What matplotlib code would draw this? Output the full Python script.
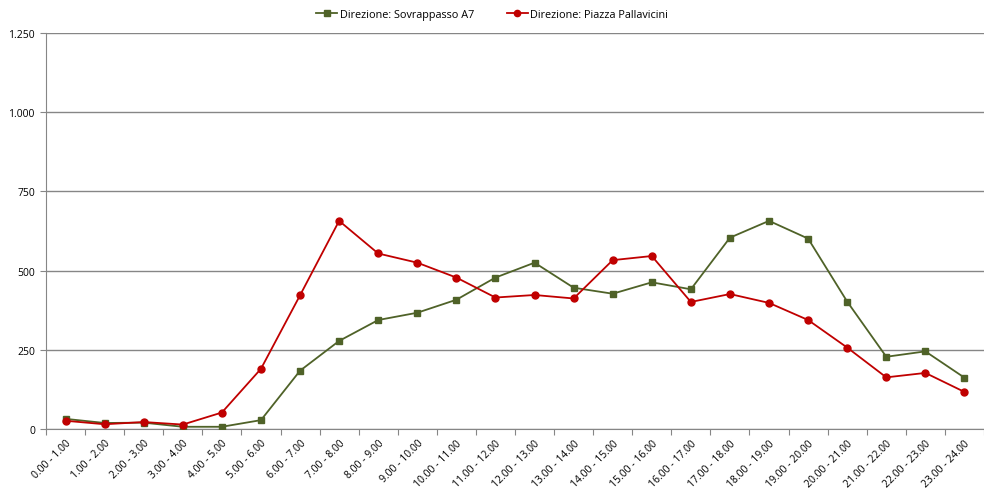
import numpy as np
import matplotlib.pyplot as plt
from matplotlib.ticker import FuncFormatter

# Fasce orarie
fasce = ["0.00 - 1.00", "1.00 - 2.00", "2.00 - 3.00", "3.00 - 4.00", "4.00 - 5.00",
         "5.00 - 6.00", "6.00 - 7.00", "7.00 - 8.00", "8.00 - 9.00", "9.00 - 10.00",
         "10.00 - 11.00", "11.00 - 12.00", "12.00 - 13.00", "13.00 - 14.00",
         "14.00 - 15.00", "15.00 - 16.00", "16.00 - 17.00", "17.00 - 18.00",
         "18.00 - 19.00", "19.00 - 20.00", "20.00 - 21.00", "21.00 - 22.00",
         "22.00 - 23.00", "23.00 - 24.00"]

# Veicoli per direzione
sovrappasso_a7 = [32, 19, 20, 7, 7, 28, 184, 278, 344, 367, 408, 478,
                  525, 446, 427, 463, 441, 604, 657, 601, 402, 228, 245, 162]
piazza_pallavicini = [26, 15, 22, 14, 52, 190, 422, 657, 554, 525, 478, 415,
                      423, 412, 533, 546, 401, 426, 398, 344, 257, 163, 177, 117]

plt.rcParams["font.family"] = ["Open Sans", "DejaVu Sans"]
grigio = "#868686"

fig = plt.figure(figsize=(9.84, 4.89), dpi=100)
ax = fig.add_axes([46 / 984, 1 - 430 / 489, 938 / 984, 396 / 489])

x = np.arange(len(fasce))
ax.plot(x, sovrappasso_a7, color="#4F6228", lw=1.3, marker="s", ms=4.5,
        label="Direzione: Sovrappasso A7", zorder=3)
ax.plot(x, piazza_pallavicini, color="#C00000", lw=1.3, marker="o", ms=5,
        label="Direzione: Piazza Pallavicini", zorder=3)

ax.set_xlim(-0.5, len(fasce) - 0.5)
ax.set_ylim(0, 1250)
ax.set_yticks(np.arange(0, 1251, 250))
ax.yaxis.set_major_formatter(FuncFormatter(lambda v, p: f"{int(v):,}".replace(",", ".")))
ax.grid(axis="y", color=grigio, lw=1)
ax.set_axisbelow(True)

# tick categorie sui confini
ax.set_xticks(np.arange(-0.5, len(fasce), 1))
ax.set_xticklabels([])
ax.set_xticks(x, minor=True)
ax.set_xticklabels(fasce, minor=True, rotation=45, ha="right", rotation_mode="anchor",
                   fontsize=7.5)
ax.tick_params(axis="x", which="minor", length=0, pad=6)
ax.tick_params(axis="x", which="major", length=4, color=grigio)
ax.tick_params(axis="y", length=4, color=grigio, labelsize=7.5, pad=4)

for s in ["top", "right"]:
    ax.spines[s].set_visible(False)
for s in ["left", "bottom"]:
    ax.spines[s].set_color(grigio)

fig.legend(loc="upper center", bbox_to_anchor=(0.5, 1.0), ncol=2, frameon=False,
           fontsize=7.8, handlelength=2.0, handletextpad=0.2, columnspacing=3,
           markerscale=0.9)

fig.savefig("out.png", dpi=100)
